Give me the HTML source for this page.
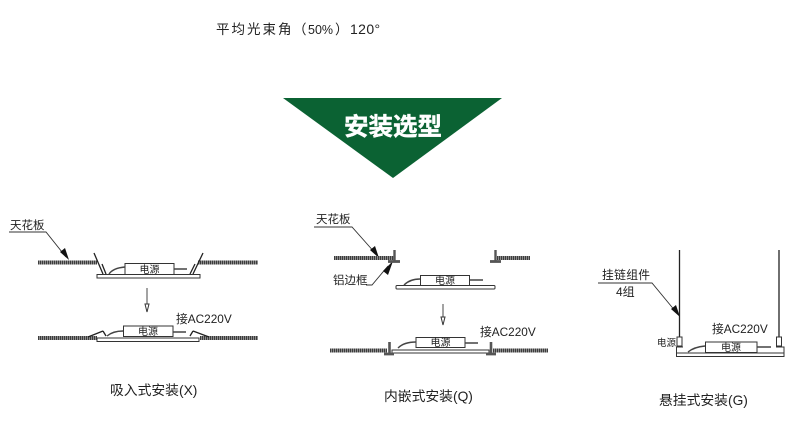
<!DOCTYPE html>
<html><head><meta charset="utf-8">
<style>
html,body{margin:0;padding:0;background:#fff;width:800px;height:446px;overflow:hidden}
svg{display:block;filter:blur(.3px)}
text{font-family:"Liberation Sans","Noto Sans CJK SC",sans-serif;fill:#222}
.bar{stroke:#8c8c8c;stroke-width:4;fill:none}
.hatch{stroke:#3c3c3c;stroke-width:4;stroke-dasharray:1 1;fill:none}
.l{stroke:#333;stroke-width:.9;fill:none}
.b{fill:#fff;stroke:#333;stroke-width:1}
.k{stroke:#222;stroke-width:1.3;fill:none}
.g{stroke:#444;stroke-width:1.4;fill:none}
</style></head><body>
<svg width="800" height="446" viewBox="0 0 800 446" xmlns="http://www.w3.org/2000/svg">
<text x="216" y="34" font-size="13.500" letter-spacing="2">平均光束角</text>
<text x="293" y="34" font-size="13.500">（</text>
<text x="308" y="34" font-size="12.500">50%</text>
<text x="335" y="34" font-size="13.500">）</text>
<text x="350" y="34" font-size="14" letter-spacing=".4">120°</text>

<polygon points="283,98 502,98 393,178" fill="#0b6233"/>
<text x="344" y="135" font-size="24.500" font-weight="700" style="fill:#fff;stroke:#fff;stroke-width:.4">安装选型</text>

<!-- Panel 1 top -->
<text x="10" y="229" font-size="11.500">天花板</text>
<path class="l" d="M9 232H46L66 257"/>
<polygon points="60,252 65,248 69,260" fill="#111"/>
<path class="bar" d="M38 262.500H97M198 262.500H258"/>
<path class="hatch" d="M38 262.500H97M198 262.500H258"/>
<rect class="b" x="97" y="274.500" width="103" height="3.500"/>
<path class="k" d="M94 253L103 274M106 274L102 264M203 253L193 274M190 274L195 264"/>
<rect class="b" x="125" y="263.500" width="49" height="11"/>
<text x="149.500" y="273" font-size="10" text-anchor="middle">电源</text>
<path class="g" d="M109 274Q113 268 125 267M174 269H187"/>

<!-- Arrow 1 -->
<path class="l" d="M147 288V304"/>
<polygon points="145,304 149,304 147,312" class="b"/>

<!-- Panel 1 bottom -->
<text x="176" y="323" font-size="11.800">接AC220V</text>
<path class="bar" d="M38 338H97M200 338H258"/>
<path class="hatch" d="M38 338H97M200 338H258"/>
<rect class="b" x="97" y="338" width="102" height="3.500"/>
<path class="k" d="M88 337L103 331M106 336L103 331M209 337L193 331M190 336L193 331"/>
<rect class="b" x="123.500" y="326" width="49.500" height="10.500"/>
<text x="148" y="335" font-size="10" text-anchor="middle">电源</text>
<path class="g" d="M107 336Q113 331 123 331M173 332H186"/>

<!-- Panel 2 top -->
<text x="316" y="223" font-size="11.500">天花板</text>
<path class="l" d="M314 227H352L376 254"/>
<polygon points="370,250 375,246 379,258" fill="#111"/>
<path class="l" d="M366 285H372L388 266"/>
<polygon points="383,271 388,275 393,261" fill="#111"/>
<text x="333" y="284" font-size="11.500">铝边框</text>
<path class="bar" d="M334 258H394M497 258H530"/>
<path class="hatch" d="M334 258H394M497 258H530"/>
<path d="M394.500 250V262" stroke="#555" stroke-width="2.400"/>
<path d="M388 261.500H400" stroke="#555" stroke-width="2.800"/>
<path d="M495.500 250V262" stroke="#555" stroke-width="2.400"/>
<path d="M490 261.500H501" stroke="#555" stroke-width="2.800"/>
<rect class="b" x="396" y="285.500" width="99" height="3.500" rx="1"/>
<rect class="b" x="420.500" y="275.500" width="49" height="10"/>
<text x="445" y="284" font-size="10" text-anchor="middle">电源</text>
<path class="g" d="M404 285Q410 279 420 279M470 280H483"/>

<!-- Arrow 2 -->
<path class="l" d="M443 304V317"/>
<polygon points="441,317 445,317 443,325" class="b"/>

<!-- Panel 2 bottom -->
<text x="480" y="336" font-size="11.800">接AC220V</text>
<path class="bar" d="M330 350.500H387M493 350.500H548"/>
<path class="hatch" d="M330 350.500H387M493 350.500H548"/>
<rect class="b" x="392" y="350" width="97" height="3"/>
<path d="M389.500 342V354M491 342V354" stroke="#555" stroke-width="2.600"/>
<path d="M384 354H394M486 354H496" stroke="#555" stroke-width="2.800"/>
<rect class="b" x="416" y="337.500" width="49" height="10"/>
<text x="440.500" y="346" font-size="10" text-anchor="middle">电源</text>
<path class="g" d="M398 348Q404 342 416 342M465 343H478"/>

<!-- Panel 3 -->
<path class="k" d="M679.500 250V337M779 250V337"/>
<text x="602" y="279" font-size="11.800" letter-spacing=".3">挂链组件</text>
<path class="l" d="M598 283H652L676 312"/>
<polygon points="671,309 676,305 680,317" fill="#111"/>
<text x="616" y="296" font-size="12">4组</text>
<text x="712" y="333" font-size="11.800">接AC220V</text>
<text x="657" y="346" font-size="9.500">电源</text>
<rect class="b" x="677" y="337" width="5" height="9"/>
<rect class="b" x="776.500" y="337" width="5" height="9"/>
<path d="M676.500 346.500V356.500H784V346.500" fill="none" stroke="#333" stroke-width="1"/>
<path d="M676 353H784" stroke="#333" stroke-width=".9"/>
<path d="M676 347H683M776 347H784" stroke="#333" stroke-width="1"/>
<rect class="b" x="705.500" y="342" width="51.500" height="10.500"/>
<text x="731" y="351" font-size="10" text-anchor="middle">电源</text>
<path class="g" d="M688 352Q694 347 705 346M757 347H771"/>

<!-- Captions -->
<text x="110" y="395" font-size="13.800">吸入式安装(X)</text>
<text x="384" y="401" font-size="13.800">内嵌式安装(Q)</text>
<text x="659" y="405" font-size="13.800">悬挂式安装(G)</text>
</svg>
</body></html>
